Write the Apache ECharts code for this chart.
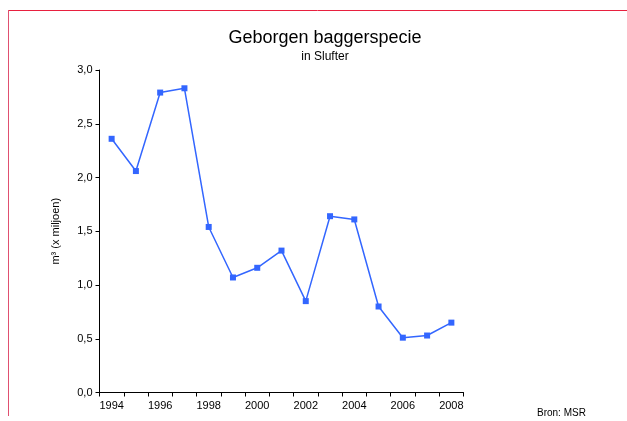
<!DOCTYPE html>
<html>
<head>
<meta charset="utf-8">
<script src="https://cdn.jsdelivr.net/npm/echarts@6/dist/echarts.min.js"></script>
<style>
html, body { margin: 0; padding: 0; background: #fff; }
#main { width: 627px; height: 421px; }
</style>
</head>
<body>
<div id="main"></div>
<script>
// jaren en hoeveelheden (m3 x miljoen)
var jaren = ['1994','1995','1996','1997','1998','1999','2000','2001','2002','2003','2004','2005','2006','2007','2008'];
var waarden = [2.36, 2.06, 2.79, 2.83, 1.54, 1.07, 1.16, 1.32, 0.85, 1.64, 1.61, 0.80, 0.51, 0.53, 0.65];

var font = 'Liberation Sans, Arial, sans-serif';
var myChart = echarts.init(document.getElementById('main'));
var option = {
    animation: false,
    backgroundColor: '#fff',
    title: {
        text: 'Geborgen baggerspecie',
        subtext: 'in Slufter',
        left: 320,
        top: 24,
        textAlign: 'center',
        itemGap: 4,
        textStyle: { fontFamily: font, fontSize: 18, fontWeight: 'normal', color: '#000' },
        subtextStyle: { fontFamily: font, fontSize: 12, color: '#000' }
    },
    grid: { left: 99.5, right: 163.5, top: 70, bottom: 28.5, containLabel: false },
    xAxis: {
        type: 'category',
        data: jaren,
        boundaryGap: true,
        axisLine: { lineStyle: { color: '#000', width: 1 } },
        axisTick: { show: true, length: 4, interval: 0, lineStyle: { color: '#000' } },
        axisLabel: { interval: 1, color: '#000', fontFamily: font, fontSize: 11, margin: 8 }
    },
    yAxis: {
        type: 'value',
        min: 0,
        max: 3,
        interval: 0.5,
        name: 'm³ (x miljoen)',
        nameLocation: 'middle',
        nameGap: 38,
        nameTextStyle: { color: '#000', fontFamily: font, fontSize: 11 },
        splitLine: { show: false },
        axisLine: { show: true, lineStyle: { color: '#000', width: 1 } },
        axisTick: { show: true, length: 4, lineStyle: { color: '#000' } },
        axisLabel: {
            color: '#000', fontFamily: font, fontSize: 11, margin: 7,
            formatter: function (v) { return v.toFixed(1).replace('.', ','); }
        }
    },
    series: [{
        type: 'line',
        data: waarden,
        symbol: 'rect',
        symbolSize: 6,
        lineStyle: { color: '#3366ff', width: 1.5 },
        itemStyle: { color: '#3366ff' }
    }],
    graphic: [
        { type: 'line', shape: { x1: 8, y1: 10.5, x2: 627, y2: 10.5 }, style: { stroke: '#e8203f', lineWidth: 1 } },
        { type: 'line', shape: { x1: 8.5, y1: 10, x2: 8.5, y2: 416 }, style: { stroke: '#e05070', lineWidth: 1 } },
        { type: 'text', left: 537, top: 408, style: { text: 'Bron: MSR', fill: '#000', font: '10px ' + font } }
    ]
};
myChart.setOption(option);
</script>
</body>
</html>
